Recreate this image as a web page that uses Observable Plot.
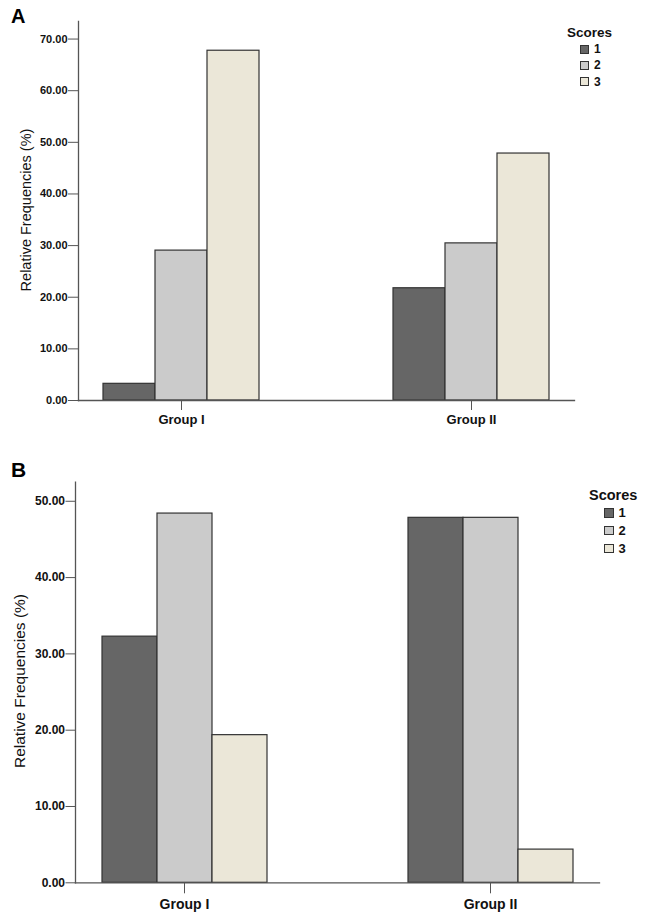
<!DOCTYPE html>
<html>
<head>
<meta charset="utf-8">
<script src="https://cdn.jsdelivr.net/npm/d3@7"></script>
<script src="https://cdn.jsdelivr.net/npm/@observablehq/plot@0.6"></script>
<style>
  body { margin: 0; background: white; font-family: "Liberation Sans", Arial, sans-serif; }
  .panel { position: absolute; left: 0; width: 648px; }
  .letter { position: absolute; font-weight: bold; color: #000; }
  .ytitle { position: absolute; white-space: nowrap; color: #111; transform: translate(-50%, -50%) rotate(-90deg); }
  .legend { position: absolute; color: #111; }
  .legend .head { font-weight: bold; text-align: center; }
  .legend .row { display: flex; align-items: center; font-weight: bold; }
  .legend .sw { box-sizing: border-box; border: 1px solid #333; }
</style>
</head>
<body>
<div id="panelA" class="panel" style="top:0;height:445px"></div>
<div id="panelB" class="panel" style="top:450px;height:470px"></div>
<script>
const groups = ["Group I", "Group II"];
const scores = ["1", "2", "3"];
const scoreColors = ["#666666", "#cbcbcb", "#ebe7d8"];

// relative frequencies (%) per score
const freqA_groupI = [3.23, 29.03, 67.74];
const freqA_groupII = [21.74, 30.43, 47.83];
const freqB_groupI = [32.26, 48.39, 19.35];
const freqB_groupII = [47.83, 47.83, 4.35];

const yTicksA = [0, 10, 20, 30, 40, 50, 60, 70];
const yTicksB = [0, 10, 20, 30, 40, 50];

function rows(g1, g2) {
  const out = [];
  scores.forEach((s, i) => {
    out.push({group: groups[0], score: s, value: g1[i]});
    out.push({group: groups[1], score: s, value: g2[i]});
  });
  return out;
}

function chart(data, o) {
  return Plot.plot({
    width: 648,
    height: o.height,
    marginLeft: o.ml,
    marginRight: o.mr,
    marginTop: o.mt,
    marginBottom: o.mb,
    style: {fontFamily: "'Liberation Sans', Arial, sans-serif", color: "#111", background: "white"},
    // facets fill the whole frame; the gap around each group comes from x padding
    fx: {domain: groups, paddingInner: o.fpi, paddingOuter: 0, label: null},
    x: {domain: scores, paddingInner: 0, paddingOuter: o.xpo, axis: null},
    y: {domain: [0, o.ymax], label: null},
    color: {domain: scores, range: scoreColors},
    marks: [
      Plot.barY(data, {fx: "group", x: "score", y: "value", fill: "score", stroke: "#333", strokeWidth: 1.2}),
      Plot.frame({anchor: "bottom", facet: "super", stroke: "#555", strokeWidth: 1.3}),
      Plot.frame({anchor: "left", facet: "super", stroke: "#555", strokeWidth: 1.3}),
      Plot.axisY({ticks: o.ticks, tickFormat: ".2f", tickSize: o.ts, tickPadding: 1,
        fontSize: o.tickFont, fontWeight: "bold", stroke: "#555", label: null}),
      Plot.axisFx({anchor: "bottom", tickSize: o.fts, tickPadding: o.ftp,
        fontSize: o.groupFont, fontWeight: "bold", stroke: "#555", label: null})
    ]
  });
}

function legend(host, o) {
  const lg = d3.select(host).append("div").attr("class", "legend")
    .style("left", o.x + "px").style("top", o.y + "px");
  lg.append("div").attr("class", "head").style("font-size", o.headFont + "px")
    .style("margin-bottom", "1px").text("Scores");
  scores.forEach((s, i) => {
    const r = lg.append("div").attr("class", "row")
      .style("height", o.rowH + "px").style("font-size", o.font + "px")
      .style("padding-left", o.indent + "px");
    r.append("div").attr("class", "sw")
      .style("width", o.sw + "px").style("height", o.sw + "px")
      .style("background", scoreColors[i]).style("margin-right", "5px");
    r.append("span").text(s);
  });
}

function panel(id, letter, data, o) {
  const host = document.getElementById(id);
  d3.select(host).append(() => chart(data, o));
  d3.select(host).append("div").attr("class", "letter")
    .style("left", o.lx + "px").style("top", o.ly + "px")
    .style("font-size", o.letterFont + "px").text(letter);
  d3.select(host).append("div").attr("class", "ytitle")
    .style("left", o.tx + "px").style("top", o.ty + "px")
    .style("font-size", o.titleFont + "px").text("Relative Frequencies (%)");
  legend(host, o.legend);
}

panel("panelA", "A", rows(freqA_groupI, freqA_groupII), {
  height: 440, ml: 78, mr: 74, mt: 21, mb: 40, fpi: 0.29, xpo: 0.468, ymax: 73.4,
  ticks: yTicksA, ts: 10, tickFont: 11, fts: 10, ftp: 4, groupFont: 13,
  lx: 11, ly: 5, letterFont: 20, tx: 25.5, ty: 210, titleFont: 14.5,
  legend: {x: 567, y: 25, headFont: 13.5, font: 12, rowH: 16.3, sw: 9, indent: 13}
});

panel("panelB", "B", rows(freqB_groupI, freqB_groupII), {
  height: 470, ml: 75, mr: 49, mt: 31.7, mb: 37.7, fpi: 0.289, xpo: 0.479, ymax: 52.5,
  ticks: yTicksB, ts: 9.5, tickFont: 12, fts: 11, ftp: 5.5, groupFont: 14,
  lx: 11, ly: 8, letterFont: 21, tx: 19.5, ty: 231, titleFont: 15.5,
  legend: {x: 589, y: 37, headFont: 14.5, font: 13, rowH: 17.8, sw: 9.5, indent: 15}
});
</script>
</body>
</html>
